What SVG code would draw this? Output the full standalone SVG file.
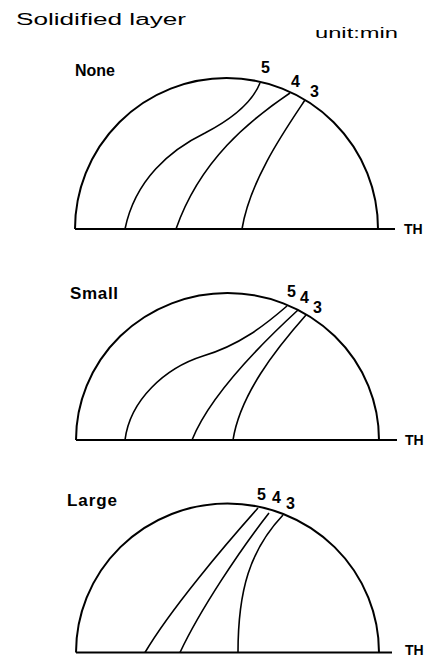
<svg xmlns="http://www.w3.org/2000/svg" width="427" height="658" viewBox="0 0 427 658">
<style>
.dome{fill:none;stroke:#000;stroke-width:2}
.iso{fill:none;stroke:#000;stroke-width:1.6}
.t{font-family:"Liberation Sans","DejaVu Sans",sans-serif;fill:#000}
.th{font-family:"Liberation Sans","DejaVu Sans",sans-serif;font-size:14px;font-weight:bold;fill:#000}
.lab{font-family:"Liberation Sans","DejaVu Sans",sans-serif;font-weight:bold;font-size:17px;fill:#000}
.num{font-family:"Liberation Sans","DejaVu Sans",sans-serif;font-weight:bold;font-size:16px;fill:#000}
</style>
<rect width="427" height="658" fill="#fff"/>
<text class="t" x="16" y="25" font-size="16" textLength="170" lengthAdjust="spacingAndGlyphs">Solidified layer</text>
<text class="t" x="315" y="38" font-size="15" textLength="83" lengthAdjust="spacingAndGlyphs">unit:min</text>

<g id="panel-none">
<path class="dome" d="M75,229 A151.5,151 0 0 1 378,229"/>
<line class="dome" x1="75" y1="229" x2="395" y2="229"/>
<text class="lab" x="75" y="76" textLength="40" lengthAdjust="spacingAndGlyphs">None</text>
<text class="th" x="404" y="234">TH</text>
<text class="num" x="261" y="73">5</text>
<text class="num" x="291" y="87">4</text>
<text class="num" x="310" y="97">3</text>
</g>
<g id="panel-small">
<path class="dome" d="M76,440 A151.5,147 0 0 1 379,440"/>
<line class="dome" x1="76" y1="440" x2="397" y2="440"/>
<text class="lab" x="70" y="299" textLength="48" lengthAdjust="spacing">Small</text>
<text class="th" x="405" y="445">TH</text>
<text class="num" x="287" y="297">5</text>
<text class="num" x="300" y="303">4</text>
<text class="num" x="313" y="313">3</text>
</g>
<g id="panel-large">
<path class="dome" d="M76,652.5 A151.5,149 0 0 1 379,652.5"/>
<line class="dome" x1="76" y1="652.5" x2="392" y2="652.5"/>
<text class="lab" x="67" y="506" textLength="50" lengthAdjust="spacing">Large</text>
<text class="th" x="405" y="655">TH</text>
<text class="num" x="257" y="500">5</text>
<text class="num" x="272" y="503">4</text>
<text class="num" x="286" y="509">3</text>
</g>
<g id="connectors">
<path class="iso" d="M260,83 C252,103 230,120 205,133 C170,150 135,180 125,229"/>
<path class="iso" d="M290,93 C250,120 200,160 176,229"/>
<path class="iso" d="M305,100 C285,130 250,180 242,229"/>
<path class="iso" d="M287,306 C265,325 240,345 203,356 C165,368 130,400 125,440"/>
<path class="iso" d="M298,310 C260,345 210,395 192,440"/>
<path class="iso" d="M306,315 C275,350 240,395 233,440"/>
<path class="iso" d="M258,508 C225,545 170,610 145,652.5"/>
<path class="iso" d="M269,513 C240,550 200,610 180,652.5"/>
<path class="iso" d="M283,515 C250,550 238,590 238,652.5"/>
</g>
</svg>
